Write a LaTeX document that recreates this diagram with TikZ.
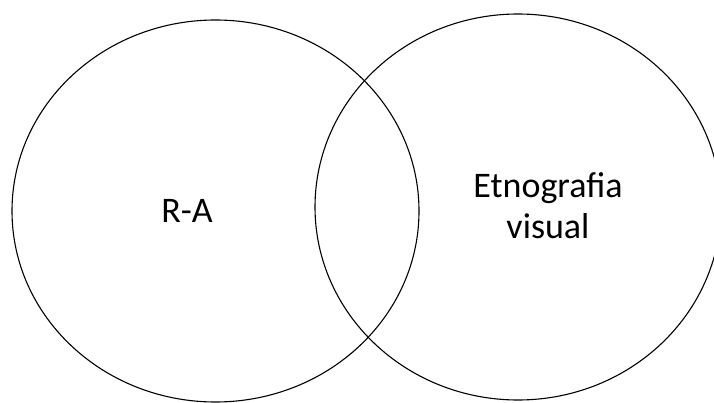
\documentclass[tikz,border=0pt]{standalone}
\usepackage{fontspec}
\setmainfont{Carlito}
\begin{document}
\begin{tikzpicture}[x=1pt,y=-1pt,
    setlabel/.style={font=\fontsize{36}{41}\selectfont, align=center, inner sep=0pt}]
  \useasboundingbox (0,0) rectangle (714,403);
  \clip (0,0) rectangle (714,403);

  % Sets
  \draw[line width=1.1pt] (215.5,211) ellipse [x radius=203.5, y radius=191];
  \draw[line width=1.1pt] (518,207) ellipse [x radius=203, y radius=193];

  \node[setlabel] (ra) at (187,211) {R-A};
  \node[setlabel] (etno) at (548,206) {Etnografia\\visual};
\end{tikzpicture}
\end{document}
